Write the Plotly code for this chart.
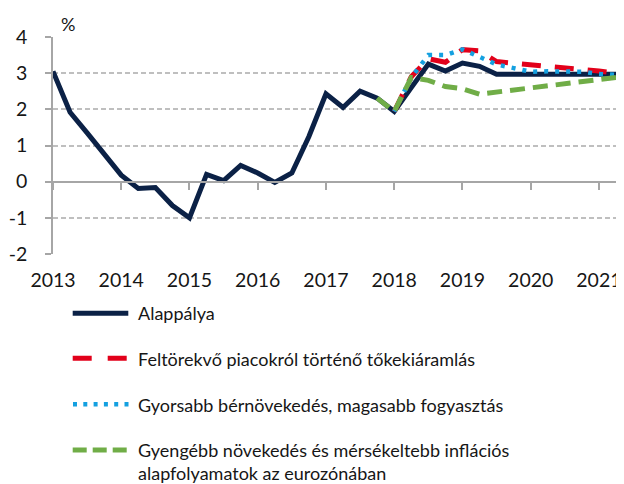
import plotly.graph_objects as go

# ---------------- data ----------------
quarters = [f"{y}Q{q}" for y in range(2013, 2022) for q in range(1, 5)][:34]
year_ticks = [f"{y}Q1" for y in range(2013, 2022)]
year_labels = [str(y) for y in range(2013, 2022)]

baseline = [3.05, 1.92, 1.35, 0.75, 0.18, -0.19, -0.16, -0.66, -1.0, 0.2,
            0.03, 0.45, 0.24, -0.02, 0.24, 1.25, 2.43, 2.05, 2.5, 2.31,
            1.94, 2.6, 3.25, 3.06, 3.28, 3.19, 2.97, 2.97, 2.97, 2.97,
            2.97, 2.97, 2.97, 2.97]
capital_outflow = [None] * 20 + [1.94, 2.9, 3.4, 3.3, 3.65, 3.62, 3.32, 3.27,
                                 3.23, 3.19, 3.13, 3.1, 3.06, 3.0]
faster_wages = [None] * 20 + [1.94, 2.88, 3.5, 3.5, 3.66, 3.45, 3.24, 3.14,
                              3.04, 3.05, 3.05, 3.04, 2.98, 2.95]
weaker_euro = [None] * 19 + [2.31, 1.94, 2.88, 2.8, 2.63, 2.57, 2.42, 2.48,
                             2.53, 2.59, 2.66, 2.73, 2.79, 2.83, 2.88]

y_ticks = [-2, -1, 0, 1, 2, 3, 4]
y_labels = ["-2", "-1", "0", "1", "2", "3", "4"]

names = ["Alappálya",
         "Feltörekvő piacokról történő tőkekiáramlás",
         "Gyorsabb bérnövekedés, magasabb fogyasztás",
         "Gyengébb növekedés és mérsékeltebb inflációs<br>alapfolyamatok az eurozónában"]
colors = ["#0b2146", "#e2001a", "#14a0e0", "#70ad47"]

FONT = "Lato"
GRID = "#BFBFBF"
AXIS = "#A6A6A6"
TXT = "#161616"

fig = go.Figure()
fig.add_trace(go.Scatter(x=quarters, y=baseline, mode="lines", name=names[0],
                         line=dict(color=colors[0], width=5)))
fig.add_trace(go.Scatter(x=quarters, y=capital_outflow, mode="lines", name=names[1],
                         line=dict(color=colors[1], width=5, dash="19px,14px")))
fig.add_trace(go.Scatter(x=quarters, y=faster_wages, mode="lines", name=names[2],
                         line=dict(color=colors[2], width=4.5, dash="4px,7px")))
fig.add_trace(go.Scatter(x=quarters, y=weaker_euro, mode="lines", name=names[3],
                         line=dict(color=colors[3], width=5, dash="15px,8px")))
# helper trace for the category axis drawn at y = 0
fig.add_trace(go.Scatter(x=quarters, y=[None] * len(quarters), xaxis="x2",
                         mode="lines", showlegend=False, hoverinfo="skip"))

# page has an 8px body margin; figure is laid out in figure pixels
OFF = 8
W, H = 616, 476
L, R, T, B = 45, 8, 29, 230
pw, ph = W - L - R, H - T - B


def px_x(x):  # reference-image x -> paper
    return (x - OFF - L) / pw


def px_y(y):  # reference-image y -> paper
    return (H - B - (y - OFF)) / ph


# manual legend
legend_rows = [
    (313.3, dict(color=colors[0], width=5), 72.7, 128.3, 313.3),
    (358.3, dict(color=colors[1], width=5, dash="19px,16px"), 72.7, 126.7, 359),
    (404.3, dict(color=colors[2], width=4.5, dash="4px,6.3px"), 73, 128.5, 405),
    (450.0, dict(color=colors[3], width=5, dash="14px,6px"), 72.7, 126.7, 462),
]
shapes = []
annotations = []
for (ly, lstyle, x0, x1, ty), name in zip(legend_rows, names):
    shapes.append(dict(type="line", xref="paper", yref="paper",
                       x0=px_x(x0), x1=px_x(x1), y0=px_y(ly), y1=px_y(ly),
                       line=lstyle))
    annotations.append(dict(xref="paper", yref="paper", x=px_x(136), y=px_y(ty),
                            xanchor="left", yanchor="middle", align="left",
                            text=name, showarrow=False,
                            font=dict(family=FONT, size=18, color=TXT)))

annotations.append(dict(xref="paper", yref="paper", x=px_x(67.5), y=px_y(24),
                        xanchor="center", yanchor="middle", text="%",
                        showarrow=False,
                        font=dict(family=FONT, size=18, color=TXT)))

fig.update_layout(
    width=W, height=H,
    margin=dict(l=L, r=R, t=T, b=B),
    paper_bgcolor="white", plot_bgcolor="white",
    showlegend=False,
    font=dict(family=FONT, color=TXT),
    shapes=shapes,
    annotations=annotations,
    xaxis=dict(type="category", categoryorder="array", categoryarray=quarters,
               range=[0, 33], tickmode="array", tickvals=year_ticks,
               ticktext=year_labels, showgrid=False, showline=False,
               zeroline=False, ticks="", tickfont=dict(size=19.5),
               ticklabelstandoff=12, automargin=False),
    xaxis2=dict(type="category", categoryorder="array", categoryarray=quarters,
                overlaying="x", matches="x", anchor="free", position=2 / 6,
                side="bottom", showline=True, linecolor=AXIS, linewidth=1.5,
                ticks="outside", ticklen=8, tickwidth=1.5, tickcolor=AXIS,
                tickmode="array", tickvals=year_ticks, showticklabels=False,
                showgrid=False, zeroline=False, automargin=False),
    yaxis=dict(range=[-2, 4], tickmode="array", tickvals=y_ticks,
               ticktext=y_labels, showgrid=True, gridcolor=GRID, gridwidth=1.5,
               griddash="5px,3px", zeroline=False, showline=True,
               linecolor=AXIS, linewidth=1.5, ticks="outside", ticklen=6,
               tickwidth=1.5, tickcolor=AXIS, tickfont=dict(size=19.5),
               ticklabelstandoff=14, automargin=False),
)

fig.write_html("out.html")
